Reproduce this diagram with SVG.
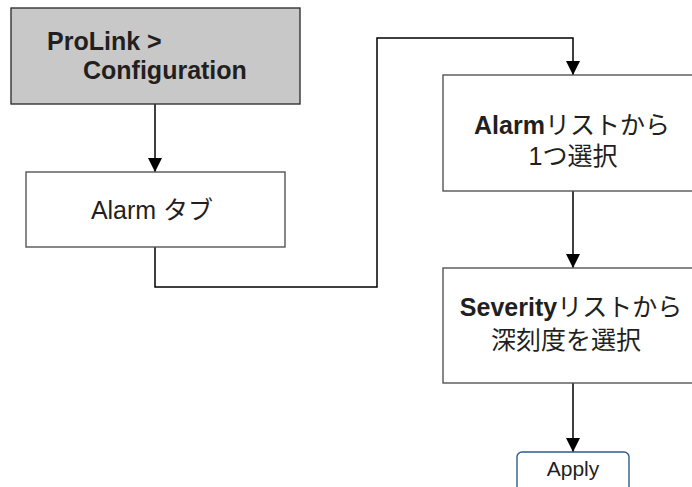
<svg xmlns="http://www.w3.org/2000/svg" width="692" height="487" viewBox="0 0 692 487">
  <defs>
    <marker id="arrow" markerUnits="userSpaceOnUse" markerWidth="14" markerHeight="14" refX="14" refY="7" orient="auto">
      <path d="M0,0 L14,7 L0,14 z" fill="#000"/>
    </marker>
    <style>
      .box { fill: #fff; stroke: #555; stroke-width: 1.4; }
      .start { fill: #c8c8c8; stroke: #333; stroke-width: 1.4; }
      .conn { fill: none; stroke: #000; stroke-width: 1.5; }
      .t { font-family: "Liberation Sans", "Noto Sans CJK JP", sans-serif; font-size: 25px; fill: #231f20; }
      .b { font-weight: bold; }
      .apply { fill: #fff; stroke: #2f5b8c; stroke-width: 1.4; }
    </style>
  </defs>
  <rect width="692" height="487" fill="#fff"/>

  <g id="connectors">
    <line class="conn" x1="155" y1="104" x2="155" y2="172" marker-end="url(#arrow)"/>
    <path class="conn" d="M155,247 V287 H377 V38 H573 V75" marker-end="url(#arrow)"/>
    <line class="conn" x1="573" y1="191" x2="573" y2="268" marker-end="url(#arrow)"/>
    <line class="conn" x1="573" y1="383" x2="573" y2="452" marker-end="url(#arrow)"/>
  </g>

  <g id="node-prolink">
    <rect class="start" x="11" y="8" width="289" height="96"/>
    <text class="t b" x="47" y="50">ProLink &gt;</text>
    <text class="t b" x="83" y="79">Configuration</text>
  </g>

  <g id="node-alarm-tab">
    <rect class="box" x="26" y="172" width="259" height="75"/>
    <text class="t" x="152" y="219" text-anchor="middle">Alarm タブ</text>
  </g>

  <g id="node-alarm-list">
    <rect class="box" x="443" y="75" width="262" height="116"/>
    <text class="t" x="572" y="134" text-anchor="middle"><tspan class="b">Alarm</tspan>リストから</text>
    <text class="t" x="573" y="165" text-anchor="middle">1つ選択</text>
  </g>

  <g id="node-severity">
    <rect class="box" x="443" y="268" width="262" height="115"/>
    <text class="t" x="571" y="316" text-anchor="middle"><tspan class="b">Severity</tspan>リストから</text>
    <text class="t" x="566" y="349" text-anchor="middle">深刻度を選択</text>
  </g>

  <g id="node-apply">
    <rect class="apply" x="517" y="452" width="112" height="50" rx="5" ry="5"/>
    <text class="t" x="573" y="476" text-anchor="middle" style="font-size:21px">Apply</text>
  </g>
</svg>
